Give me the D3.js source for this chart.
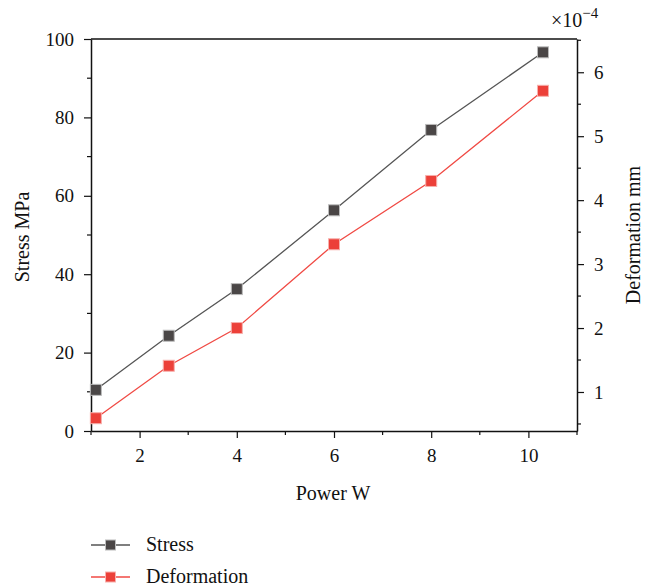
<!DOCTYPE html>
<html>
<head>
<meta charset="utf-8">
<script src="https://cdn.jsdelivr.net/npm/d3@7"></script>
<style>
  body { margin: 0; background: #fff; }
</style>
</head>
<body>
<div id="chart"></div>
<script>
// power values (W)
const power = [1.1, 2.6, 4, 6, 8, 10.3];
// stress (MPa)
const stress = [10.5, 24.3, 36.2, 56.3, 76.8, 96.6];
// deformation (x1e-4 mm)
const deformation = [0.59, 1.41, 2.0, 3.31, 4.30, 5.71];

const xTicks = [2, 4, 6, 8, 10];
const yTicks = [0, 20, 40, 60, 80, 100];
const y2Ticks = [1, 2, 3, 4, 5, 6];

const FONT = "'Liberation Serif', 'DejaVu Serif', serif";
const W = 657, H = 588;
const margin = { top: 39, right: 80, bottom: 157, left: 91 };
const width = W - margin.left - margin.right,
      height = H - margin.top - margin.bottom;

const svg = d3.select("#chart").append("svg")
    .attr("width", W).attr("height", H)
    .attr("font-family", FONT);
const g = svg.append("g")
    .attr("transform", `translate(${margin.left},${margin.top})`);

const x = d3.scaleLinear().domain([1, 11]).range([0, width]);
const y = d3.scaleLinear().domain([0, 100]).range([height, 0]);
const y2 = d3.scaleLinear().domain([0.39, 6.52]).range([height, 0]);

function minorTicks(axisG, vals, pos, horiz, len) {
    vals.forEach(v => {
        const p = pos(v);
        axisG.append("line")
            .attr("x1", horiz ? p : 0).attr("x2", horiz ? p : len)
            .attr("y1", horiz ? 0 : p).attr("y2", horiz ? len : p)
            .attr("stroke", "#111").attr("stroke-width", 1.2);
    });
}

// bottom axis
const xAxis = g.append("g")
    .attr("transform", `translate(0,${height})`)
    .call(d3.axisBottom(x).tickValues(xTicks).tickSize(7).tickPadding(11).tickSizeOuter(0));
minorTicks(xAxis, [1, 3, 5, 7, 9, 11], x, true, 4);

// left axis
const yAxis = g.append("g")
    .call(d3.axisLeft(y).tickValues(yTicks).tickSize(7).tickPadding(10).tickSizeOuter(0));
minorTicks(yAxis, [10, 30, 50, 70, 90], y, false, -4);

// right axis
const y2Axis = g.append("g")
    .attr("transform", `translate(${width},0)`)
    .call(d3.axisRight(y2).tickValues(y2Ticks).tickFormat(d3.format("d"))
        .tickSize(7).tickPadding(10).tickSizeOuter(0));
minorTicks(y2Axis, [0.5, 1.5, 2.5, 3.5, 4.5, 5.5, 6.5], y2, false, 4);

[xAxis, yAxis, y2Axis].forEach(a => {
    a.attr("font-family", FONT).attr("font-size", 19);
    a.select(".domain").attr("stroke", "#111").attr("stroke-width", 1.5);
    a.selectAll(".tick line").attr("stroke", "#111").attr("stroke-width", 1.2);
    a.selectAll("text").attr("fill", "#111");
});

// top frame
g.append("line").attr("x1", 0).attr("x2", width).attr("y1", 0).attr("y2", 0)
    .attr("stroke", "#111").attr("stroke-width", 1.5);

// lines
const stressColor = "#4a4646", defColor = "#ec4039";
const lineS = d3.line().x((d, i) => x(power[i])).y(d => y(d));
const lineD = d3.line().x((d, i) => x(power[i])).y(d => y2(d));

g.append("path").datum(stress).attr("d", lineS)
    .attr("fill", "none").attr("stroke", "#555").attr("stroke-width", 1.3);
g.append("path").datum(deformation).attr("d", lineD)
    .attr("fill", "none").attr("stroke", "#f04a44").attr("stroke-width", 1.3);

const ms = 11;
g.selectAll(".ms").data(stress).join("rect")
    .attr("x", (d, i) => x(power[i]) - ms / 2).attr("y", d => y(d) - ms / 2)
    .attr("width", ms).attr("height", ms)
    .attr("fill", stressColor).attr("stroke", "#bbb").attr("stroke-width", 1);
g.selectAll(".md").data(deformation).join("rect")
    .attr("x", (d, i) => x(power[i]) - ms / 2).attr("y", d => y2(d) - ms / 2)
    .attr("width", ms).attr("height", ms)
    .attr("fill", defColor).attr("stroke", "#f7b0ac").attr("stroke-width", 1);

// axis titles
svg.append("text").attr("x", margin.left + width / 2 - 1).attr("y", 500)
    .attr("text-anchor", "middle").attr("font-size", 20).attr("fill", "#111").text("Power W");
svg.append("text").attr("transform", `translate(29,${margin.top + height / 2 + 2}) rotate(-90)`)
    .attr("text-anchor", "middle").attr("font-size", 20).attr("fill", "#111").text("Stress MPa");
svg.append("text").attr("transform", `translate(640,${margin.top + height / 2}) rotate(-90)`)
    .attr("text-anchor", "middle").attr("font-size", 20).attr("fill", "#111").text("Deformation mm");

// exponent label
const ex = svg.append("text").attr("x", 551).attr("y", 27).attr("font-size", 20).attr("fill", "#111");
ex.append("tspan").text("×10");
ex.append("tspan").attr("dy", -9).attr("font-size", 15).text("−4");

// legend
const legend = [
    { name: "Stress", line: "#555", fill: stressColor, stroke: "#bbb" },
    { name: "Deformation", line: "#f04a44", fill: defColor, stroke: "#f7b0ac" }
];
legend.forEach((l, i) => {
    const ly = 545 + i * 32;
    svg.append("line").attr("x1", 91).attr("x2", 130).attr("y1", ly).attr("y2", ly)
        .attr("stroke", l.line).attr("stroke-width", 1.3);
    svg.append("rect").attr("x", 110.5 - 5).attr("y", ly - 5).attr("width", 10).attr("height", 10)
        .attr("fill", l.fill).attr("stroke", l.stroke).attr("stroke-width", 1);
    svg.append("text").attr("x", 146).attr("y", ly + 6).attr("font-size", 20).attr("fill", "#111").text(l.name);
});
</script>
</body>
</html>
